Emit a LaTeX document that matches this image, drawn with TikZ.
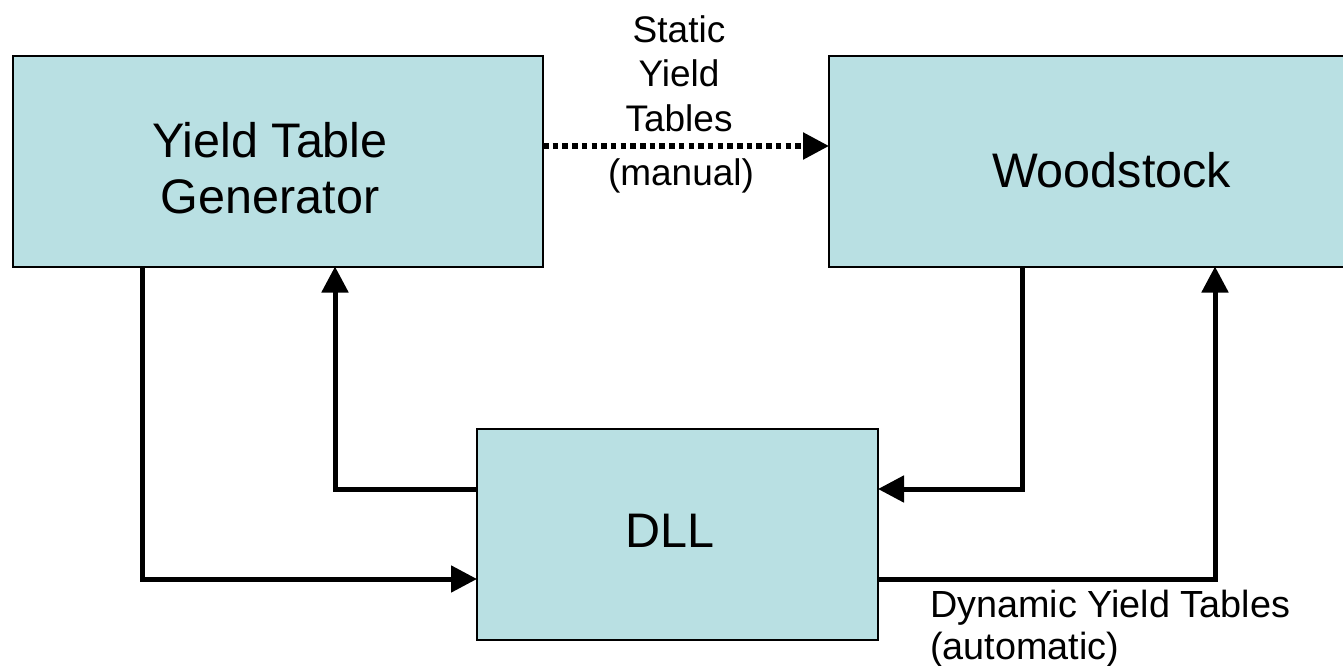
\documentclass[tikz,border=0pt]{standalone}
\usepackage{fontspec}
\setmainfont{Liberation Sans}
\usetikzlibrary{arrows.meta}
\definecolor{boxfill}{RGB}{185,224,227}
\tikzset{
  box/.style={draw=black, line width=2pt, fill=boxfill, rectangle, inner sep=0pt, outer sep=0pt},
  boxtext/.style={font=\fontsize{48.5}{56}\selectfont, align=center, inner sep=0pt},
  lbl/.style={font=\fontsize{37}{44.5}\selectfont, inner sep=0pt},
  conn/.style={line width=5pt, -{Triangle[length=26pt,width=26pt]}},
  dotconn/.style={line width=5.5pt, dash pattern=on 5.5pt off 4.2pt, -{Triangle[length=26pt,width=26pt]}}
}
\begin{document}
\begin{tikzpicture}[x=1pt,y=-1pt]
\useasboundingbox (0,0) rectangle (1343,666);
\clip (0,0) rectangle (1343,666);
\fill[white] (0,0) rectangle (1343,666);
% boxes
\node[box, minimum width=530pt, minimum height=210pt] (ytg) at (278,161.5) {};
\node[boxtext] (ytgtext) at (270,168) {Yield Table\\Generator};
\node[box, minimum width=564pt, minimum height=210pt] (wood) at (1111,161.5) {};
\node[boxtext, anchor=base] (woodtext) at (1111.5,187) {Woodstock};
\node[box, minimum width=401pt, minimum height=211pt] (dll) at (677.5,534.5) {};
\node[boxtext, anchor=base] (dlltext) at (669.5,547) {DLL};
% connectors
\draw[conn] (ytg.south -| 142,0) |- (dll.west |- 0,579);
\draw[conn] (dll.west |- 0,489) -| (ytg.south -| 335,0);
\draw[conn] (wood.south -| 1022,0) |- (dll.east |- 0,489);
\draw[conn] (dll.east |- 0,579) -| (wood.south -| 1215,0);
\draw[dotconn] (ytg.east |- 0,146) -- (wood.west |- 0,146);
% labels
\node[lbl, align=center, anchor=south] (statlbl) at (679,132) {Static\\Yield\\Tables};
\node[lbl, anchor=base] (manlbl) at (681,185) {(manual)};
\node[lbl, align=left, anchor=north west, font=\fontsize{37.8}{42}\selectfont] (dynlbl) at (930,590) {Dynamic Yield Tables\\(automatic)};
\end{tikzpicture}
\end{document}
